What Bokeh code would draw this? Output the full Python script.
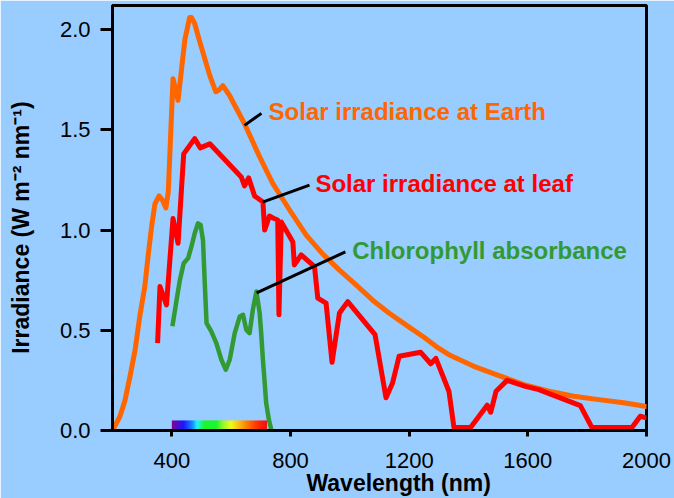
import numpy as np
from bokeh.plotting import figure
from bokeh.models import Range1d, FixedTicker, Label
from bokeh.embed import file_html
from bokeh.resources import INLINE

# ---------------- data ----------------
earth_nm = [200, 225, 242, 259, 276, 292, 309, 320, 332, 343, 357, 368, 380, 388, 404,
            421, 444, 460, 466, 477, 494, 528, 548, 560, 572, 595, 620, 645, 696, 741,
            797, 853, 909, 965, 1021, 1077, 1133, 1189, 1250, 1290, 1334, 1418, 1503,
            1587, 1671, 1755, 1839, 1923, 2000]
earth_val = [0.0, 0.07, 0.15, 0.27, 0.40, 0.57, 0.72, 0.87, 1.02, 1.13, 1.17, 1.15, 1.11, 1.19, 1.755,
             1.647, 1.95, 2.06, 2.06, 2.03, 1.94, 1.77, 1.69, 1.70, 1.72, 1.67, 1.60, 1.53, 1.365, 1.23,
             1.10, 0.975, 0.88, 0.80, 0.726, 0.65, 0.585, 0.527, 0.465, 0.42, 0.378, 0.32, 0.274,
             0.229, 0.196, 0.171, 0.154, 0.138, 0.12]

leaf_nm = [352, 360, 382, 404, 421, 440, 477, 496, 528, 634, 645, 659, 679, 707, 713, 729,
           741, 757, 761, 769, 808, 813, 836, 881, 892, 920, 940, 965, 993, 1085, 1122,
           1144, 1166, 1239, 1273, 1290, 1334, 1351, 1407, 1463, 1475, 1493, 1530, 1592,
           1637, 1777, 1816, 1951, 1979, 2000]
leaf_val = [0.436, 0.718, 0.627, 1.058, 0.934, 1.38, 1.456, 1.41, 1.43, 1.265, 1.22, 1.26, 1.17, 1.14, 1.00, 1.07,
            1.06, 1.05, 0.577, 1.04, 0.94, 0.826, 0.876, 0.817, 0.66, 0.635, 0.34, 0.586, 0.643, 0.478, 0.163,
            0.237, 0.37, 0.39, 0.333, 0.36, 0.196, 0.015, 0.015, 0.126, 0.091, 0.196, 0.25, 0.22,
            0.204, 0.124, 0.015, 0.015, 0.071, 0.063]

chl_nm = [402, 416, 427, 440, 455, 466, 477, 488, 497, 505, 511, 517, 533, 550, 567, 582,
          595, 612, 629, 640, 651, 662, 673, 685, 696, 701, 707, 713, 718, 727, 735]
chl_val = [0.52, 0.65, 0.75, 0.834, 0.86, 0.917, 0.983, 1.033, 1.025, 0.95, 0.735, 0.536, 0.494, 0.436, 0.353, 0.303,
           0.353, 0.486, 0.569, 0.577, 0.502, 0.486, 0.602, 0.693, 0.587, 0.49, 0.353, 0.238, 0.138, 0.055, 0.005]

x_ticks = [400, 800, 1200, 1600, 2000]
y_ticks = [0.0, 0.5, 1.0, 1.5, 2.0]
y_tick_labels = ["0.0", "0.5", "1.0", "1.5", "2.0"]

# visible spectrum strip
spectrum_nm = [400, 440, 470, 485, 510, 550, 575, 600, 640, 680, 720]
spectrum_colors = ["#800090", "#1000ff", "#0080ff", "#00ffff", "#00ff00", "#00ff00",
                   "#a0ff00", "#ffff00", "#ff9900", "#ff4000", "#ff0000"]
spectrum_bottom, spectrum_top = 0.008, 0.05

# annotations: text, anchor and leader line ends
labels_text = ["Solar irradiance at Earth", "Solar irradiance at leaf", "Chlorophyll absorbance"]
labels_x = [726, 884, 1008]
labels_y = [1.592, 1.234, 0.896]
leader_x = [[645, 702], [706, 864], [686, 985]]
leader_y = [[1.522, 1.582], [1.139, 1.224], [0.687, 0.891]]

ORANGE = "#ff6600"
RED = "#ff0000"
GREEN = "#339933"
BG = "#99ccff"
label_colors = [ORANGE, RED, GREEN]
FONT = "Liberation Sans"
NBSP = "\u00a0"

# ---------------- figure ----------------
p = figure(width=674, height=498, output_backend="svg", toolbar_location=None,
           x_range=Range1d(200, 2000), y_range=Range1d(0, 2.12),
           min_border_left=112, min_border_right=28, min_border_top=5, min_border_bottom=67)
p.background_fill_color = BG
p.border_fill_color = BG
p.outline_line_color = "black"
p.outline_line_width = 3
p.grid.visible = False

for ax in (p.xaxis[0], p.yaxis[0]):
    ax.axis_line_width = 3
    ax.axis_line_color = "black"
    ax.major_tick_line_width = 3
    ax.major_tick_line_color = "black"
    ax.major_tick_in = 0
    ax.minor_tick_line_color = None
    ax.major_label_text_font = FONT
    ax.major_label_text_font_size = "22px"
    ax.major_label_text_color = "black"
    ax.axis_label_text_font = FONT
    ax.axis_label_text_font_size = "23px"
    ax.axis_label_text_font_style = "bold"
    ax.axis_label_text_color = "black"

p.xaxis.ticker = FixedTicker(ticks=x_ticks)
p.xaxis.major_tick_out = 6
p.xaxis.major_label_standoff = 16
# label sits a little right of the frame centre in the reference
p.xaxis.axis_label = NBSP * 6 + "Wavelength (nm)"
p.xaxis.axis_label_standoff = -1

p.yaxis.ticker = FixedTicker(ticks=y_ticks)
p.yaxis.major_label_overrides = {t: l for t, l in zip(y_ticks, y_tick_labels)}
p.yaxis.major_tick_out = 12
p.yaxis.major_label_standoff = 10
# label sits a little below the frame centre in the reference
p.yaxis.axis_label = "Irradiance (W m\u207b\u00b2 nm\u207b\u00b9)" + NBSP * 3
p.yaxis.axis_label_standoff = 23

# spectrum strip
edges = np.linspace(spectrum_nm[0], spectrum_nm[-1], 97)
def _rgb(c):
    return [int(c[i:i + 2], 16) for i in (1, 3, 5)]
rgbs = np.array([_rgb(c) for c in spectrum_colors], dtype=float)
mids = 0.5 * (edges[:-1] + edges[1:])
strip_colors = []
for m in mids:
    r = np.interp(m, spectrum_nm, rgbs[:, 0])
    g = np.interp(m, spectrum_nm, rgbs[:, 1])
    b = np.interp(m, spectrum_nm, rgbs[:, 2])
    strip_colors.append("#%02x%02x%02x" % (int(r), int(g), int(b)))
p.quad(left=edges[:-1], right=edges[1:] + 0.5, bottom=spectrum_bottom, top=spectrum_top,
       fill_color=strip_colors, line_color=None)

# curves
p.line(earth_nm, earth_val, line_color=ORANGE, line_width=5, line_join="round", line_cap="round")
p.line(leaf_nm, leaf_val, line_color=RED, line_width=5, line_join="round", line_cap="butt")
p.line(chl_nm, chl_val, line_color=GREEN, line_width=4.5, line_join="round", line_cap="butt")

# leader lines and labels
for lx, ly in zip(leader_x, leader_y):
    p.line(lx, ly, line_color="black", line_width=3)
for t, x, y, c in zip(labels_text, labels_x, labels_y, label_colors):
    p.add_layout(Label(x=x, y=y, text=t, text_color=c, text_font=FONT, text_font_size="24px",
                       text_font_style="bold", text_baseline="alphabetic", text_align="left"))

open("out.html", "w").write(file_html(p, INLINE))
